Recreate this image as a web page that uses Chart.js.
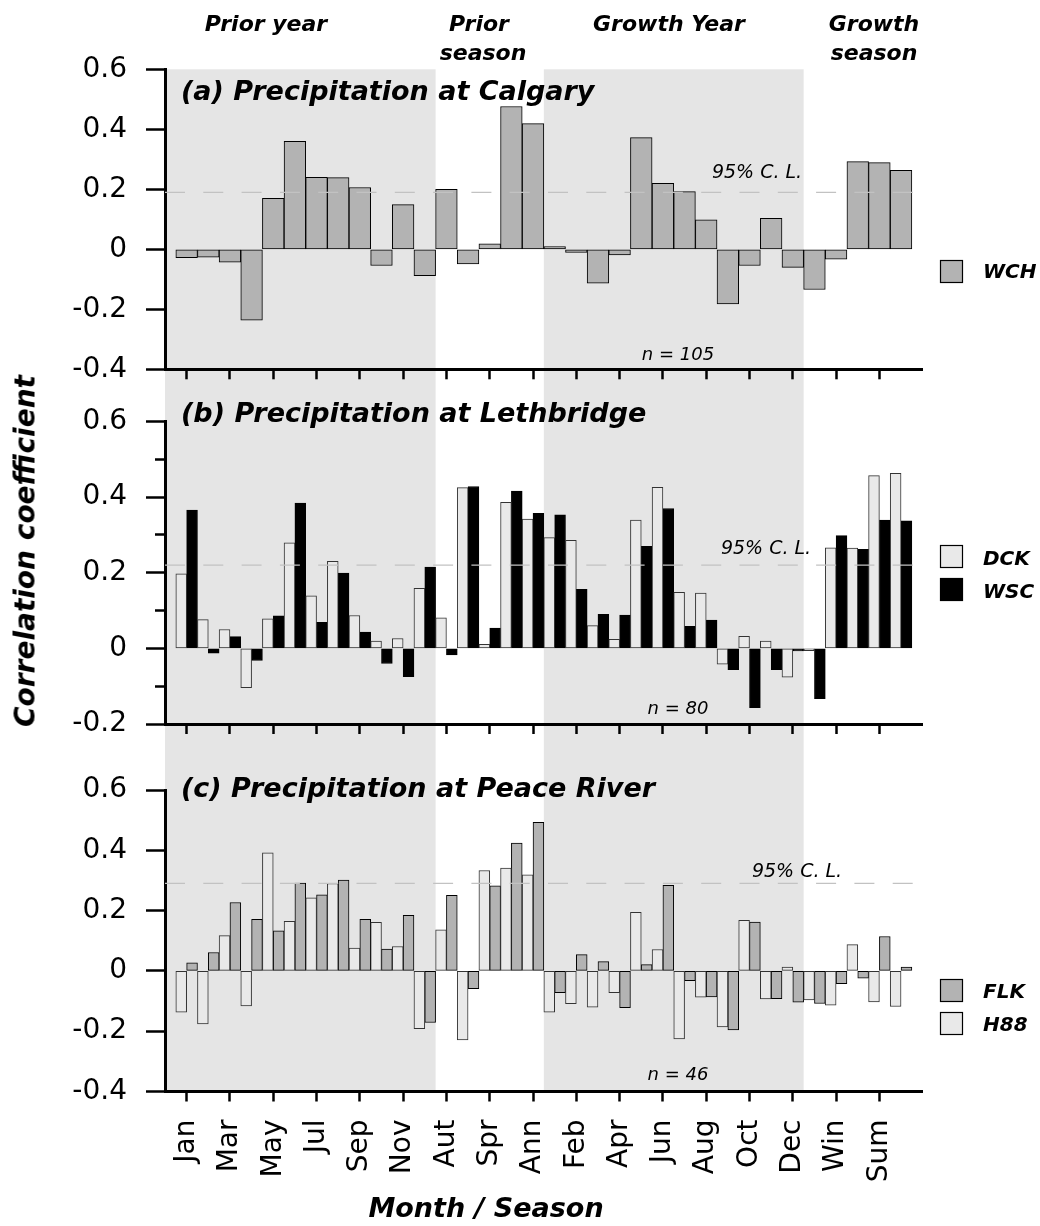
<!DOCTYPE html>
<html>
<head>
<meta charset="utf-8">
<script src="https://cdn.jsdelivr.net/npm/chart.js@4.4.1/dist/chart.umd.min.js"></script>
<style>
html, body { margin: 0; padding: 0; background: #fff; }
#wrap { position: relative; width: 1040px; height: 1226px; overflow: hidden; background: #fff; }
#wrap canvas { position: absolute; left: 0; }
#ytitle { position: absolute; left: 25px; top: 551px; transform: translate(-50%, -50%) rotate(-90deg);
  font: italic bold 28px 'DejaVu Sans'; white-space: nowrap; color: #000; }
</style>
</head>
<body>
<div id="wrap">
  <canvas id="ca" width="1040" height="382" style="top:0px;width:1040px;height:382px"></canvas>
  <canvas id="cb" width="1040" height="353" style="top:382px;width:1040px;height:353px"></canvas>
  <canvas id="cc" width="1040" height="491" style="top:735px;width:1040px;height:491px"></canvas>
  <div id="ytitle">Correlation coefficient</div>
</div>
<script>
// ---------- data ----------
const categories = ['Jan','Feb','Mar','Apr','May','Jun','Jul','Aug','Sep','Oct','Nov','Dec',
                    'Aut','Win','Spr','Sum','Ann',
                    'Jan','Feb','Mar','Apr','May','Jun','Jul','Aug','Sep','Oct','Nov','Dec',
                    'Aut','Win','Spr','Sum','Ann'];
const groupNames = ['Prior year', 'Prior season', 'Growth Year', 'Growth season'];
const groupSizes = [12, 5, 12, 5];
const groupShaded = [true, false, true, false];

// (a) Calgary
const wch = [-0.028,-0.026,-0.043,-0.236,0.17,0.36,0.24,0.239,0.206,-0.054,0.149,-0.088,
             0.2,-0.049,0.018,0.476,0.419,
             0.009,-0.01,-0.113,-0.019,0.372,0.22,0.192,0.098,-0.182,-0.054,0.103,-0.06,
             -0.134,-0.033,0.292,0.289,0.263];
// (b) Lethbridge
const dck = [0.197,0.076,0.05,-0.104,0.078,0.279,0.139,0.23,0.087,0.019,0.026,0.159,
             0.081,0.425,0.011,0.386,0.342,
             0.293,0.286,0.06,0.024,0.339,0.426,0.148,0.146,-0.042,0.032,0.019,-0.076,
             -0.006,0.266,0.265,0.457,0.463];
const wsc = [0.366,-0.013,0.031,-0.032,0.086,0.384,0.069,0.199,0.043,-0.04,-0.075,0.215,
             -0.017,0.428,0.054,0.416,0.357,
             0.353,0.156,0.09,0.088,0.27,0.37,0.058,0.075,-0.056,-0.157,-0.056,-0.007,
             -0.133,0.298,0.262,0.339,0.337];
// (c) Peace River
const h88 = [-0.137,-0.176,0.117,-0.116,0.392,0.164,0.242,0.29,0.076,0.161,0.081,-0.192,
             0.136,-0.229,0.333,0.341,0.319,
             -0.137,-0.109,-0.12,-0.072,0.194,0.071,-0.226,-0.087,-0.186,0.168,-0.093,0.013,
             -0.096,-0.114,0.087,-0.103,-0.118];
const flk = [0.027,0.061,0.227,0.171,0.133,0.291,0.252,0.301,0.171,0.072,0.184,-0.171,
             0.251,-0.059,0.282,0.424,0.493,
             -0.072,0.054,0.031,-0.122,0.021,0.284,-0.032,-0.086,-0.196,0.162,-0.092,-0.104,
             -0.108,-0.042,-0.024,0.114,0.013];
// 95% confidence limits
const clA = 0.19, clB = 0.22, clC = 0.29;

// ---------- styles ----------
const FAM = "'DejaVu Sans'";
const SHADE = '#e5e5e5';
const GREY = '#b3b3b3';
const LIGHT = '#e9e9e9';
const BLACK = '#000000';

// shaded spans (in category index units)
const shadeSpans = [];
(function () {
  let start = 0;
  groupSizes.forEach((n, i) => {
    if (groupShaded[i]) shadeSpans.push([start === 0 ? null : start - 0.5, start + n - 0.5]);
    start += n;
  });
})();

const padLabels = ['', ...categories, ''];
const pad = arr => [null, ...arr, null];

function fmtTick(v) {
  const r = Math.round(v * 10);
  if (r % 2 !== 0) return '';
  return r === 0 ? '0' : (r / 10).toFixed(1);
}
function isMajor(v) { return Math.round(v * 10) % 2 === 0; }

function makePlugin(P) {
  return {
    id: 'deco_' + P.id,
    beforeDraw(chart) {
      const ctx = chart.ctx, a = chart.chartArea, x = chart.scales.x;
      const y0 = P.shadeFromArea ? a.top : 0;
      const y1 = P.shadeToArea ? a.bottom : chart.height;
      ctx.save();
      ctx.fillStyle = SHADE;
      for (const [s, e] of shadeSpans) {
        const xs = s === null ? a.left : x.getPixelForValue(s + 1);
        const xe = x.getPixelForValue(e + 1);
        ctx.fillRect(xs, y0, xe - xs, y1 - y0);
      }
      ctx.restore();
    },
    afterDatasetsDraw(chart) {
      const ctx = chart.ctx, a = chart.chartArea, y = chart.scales.y;
      const yy = y.getPixelForValue(P.cl);
      ctx.save();
      ctx.strokeStyle = '#c2c2c2';
      ctx.lineWidth = 1.2;
      ctx.setLineDash([20, 18.3]);
      ctx.beginPath();
      ctx.moveTo(a.left, yy);
      ctx.lineTo(a.right - 9, yy);
      ctx.stroke();
      ctx.setLineDash([]);
      ctx.fillStyle = '#000';
      ctx.textBaseline = 'alphabetic';
      for (const t of P.texts) {
        ctx.font = t.font;
        ctx.textAlign = t.align;
        ctx.fillText(t.s, t.x, t.y - P.top);
      }
      for (const L of P.legend) {
        const ly = L.y - P.top;
        ctx.fillStyle = L.color;
        ctx.fillRect(940, ly, 23, 23);
        ctx.strokeStyle = '#000';
        ctx.lineWidth = 1.2;
        ctx.strokeRect(940.5, ly + 0.5, 22, 22);
        ctx.fillStyle = '#000';
        ctx.font = 'italic bold 20px ' + FAM;
        ctx.textAlign = 'left';
        ctx.fillText(L.label, 983, L.baseline - P.top);
      }
      ctx.restore();
    }
  };
}

const TITLE_FONT = 'italic bold 27px ' + FAM;
const HEAD_FONT = 'italic bold 22px ' + FAM;
const CL_FONT = 'italic 19px ' + FAM;
const N_FONT = 'italic 18px ' + FAM;

const panels = [
  {
    id: 'ca', top: 0, padTop: 69.3, xh: 12.7, min: -0.4, max: 0.6, showLabels: false,
    shadeFromArea: true, shadeToArea: false, cl: clA,
    datasets: [{ label: 'WCH', data: wch, bg: GREY, bc: '#000' }],
    legend: [{ label: 'WCH', color: GREY, y: 260, baseline: 278 }],
    texts: [
      { s: groupNames[0], x: 266, y: 31, font: HEAD_FONT, align: 'center' },
      { s: 'Prior', x: 479, y: 31, font: HEAD_FONT, align: 'center' },
      { s: 'season', x: 483, y: 60, font: HEAD_FONT, align: 'center' },
      { s: groupNames[2], x: 669, y: 31, font: HEAD_FONT, align: 'center' },
      { s: 'Growth', x: 874, y: 31, font: HEAD_FONT, align: 'center' },
      { s: 'season', x: 874, y: 60, font: HEAD_FONT, align: 'center' },
      { s: '(a) Precipitation at Calgary', x: 181, y: 100, font: TITLE_FONT, align: 'left' },
      { s: '95% C. L.', x: 757, y: 178, font: CL_FONT, align: 'center' },
      { s: 'n = 105', x: 678, y: 359.5, font: N_FONT, align: 'center' }
    ]
  },
  {
    id: 'cb', top: 382, padTop: 39.5, xh: 11, min: -0.2, max: 0.6, showLabels: false,
    shadeFromArea: false, shadeToArea: false, cl: clB,
    datasets: [
      { label: 'DCK', data: dck, bg: LIGHT, bc: '#333' },
      { label: 'WSC', data: wsc, bg: BLACK, bc: '#000' }
    ],
    legend: [
      { label: 'DCK', color: LIGHT, y: 545, baseline: 564.5 },
      { label: 'WSC', color: BLACK, y: 578, baseline: 597.5 }
    ],
    texts: [
      { s: '(b) Precipitation at Lethbridge', x: 181, y: 421.5, font: TITLE_FONT, align: 'left' },
      { s: '95% C. L.', x: 766, y: 554, font: CL_FONT, align: 'center' },
      { s: 'n = 80', x: 678, y: 713.5, font: N_FONT, align: 'center' }
    ]
  },
  {
    id: 'cc', top: 735, padTop: 55, xh: 134.5, min: -0.4, max: 0.6, showLabels: true,
    shadeFromArea: false, shadeToArea: true, cl: clC,
    datasets: [
      { label: 'H88', data: h88, bg: LIGHT, bc: '#333' },
      { label: 'FLK', data: flk, bg: GREY, bc: '#000' }
    ],
    legend: [
      { label: 'FLK', color: GREY, y: 979, baseline: 997.5 },
      { label: 'H88', color: LIGHT, y: 1012, baseline: 1030.5 }
    ],
    texts: [
      { s: '(c) Precipitation at Peace River', x: 181, y: 796.5, font: TITLE_FONT, align: 'left' },
      { s: '95% C. L.', x: 797, y: 876.5, font: CL_FONT, align: 'center' },
      { s: 'n = 46', x: 678, y: 1079.5, font: N_FONT, align: 'center' },
      { s: 'Month / Season', x: 486, y: 1217, font: TITLE_FONT, align: 'center' }
    ]
  }
];

panels.forEach(P => {
  new Chart(document.getElementById(P.id), {
    type: 'bar',
    data: {
      labels: padLabels,
      datasets: P.datasets.map(d => ({
        label: d.label,
        data: pad(d.data),
        backgroundColor: d.bg,
        borderColor: d.bc,
        borderWidth: 1,
        borderSkipped: false,
        categoryPercentage: 1,
        barPercentage: 1
      }))
    },
    options: {
      responsive: false,
      maintainAspectRatio: false,
      animation: false,
      devicePixelRatio: 1,
      events: [],
      layout: { autoPadding: false, padding: { top: P.padTop, right: 117.3, bottom: 0, left: 0 } },
      plugins: { legend: { display: false }, tooltip: { enabled: false }, title: { display: false } },
      scales: {
        x: {
          type: 'category',
          offset: false,
          grid: { display: true, offset: false, drawOnChartArea: false, drawTicks: true,
                  tickLength: 10, tickWidth: 2.5, tickColor: '#000' },
          border: { display: true, color: '#000', width: 3 },
          ticks: {
            display: P.showLabels, autoSkip: false, minRotation: 90, maxRotation: 90,
            padding: 18, color: '#000', font: { family: 'DejaVu Sans', size: 28 }
          },
          afterBuildTicks: s => {
            s.ticks = s.ticks.filter(t => t.value >= 1 && t.value <= categories.length && (t.value - 1) % 2 === 0);
          },
          afterFit: s => { s.height = P.xh; s.paddingLeft = 0; s.paddingRight = 0; }
        },
        y: {
          min: P.min, max: P.max,
          grid: {
            display: true, drawOnChartArea: false, drawTicks: true, tickLength: 19,
            tickWidth: 2.5, tickColor: '#000',
            tickBorderDash: c => (c.tick && !isMajor(c.tick.value)) ? [0, 9, 40] : []
          },
          border: { display: true, color: '#000', width: 3 },
          ticks: {
            stepSize: 0.1, padding: 19, color: '#000',
            font: { family: 'DejaVu Sans', size: 28 },
            callback: v => fmtTick(v)
          },
          afterFit: s => { s.width = 165; s.paddingTop = 0; s.paddingBottom = 0; }
        }
      }
    },
    plugins: [makePlugin(P)]
  });
});
</script>
</body>
</html>
